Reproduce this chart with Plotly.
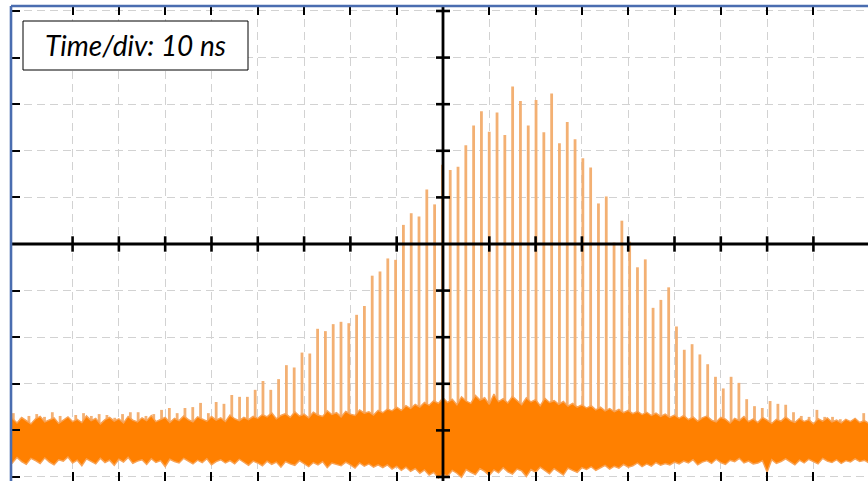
import plotly.graph_objects as go

# ---------------- data ----------------
# vertical scale in divisions, horizontal scale in ns (10 ns / div)
pulse_t0_ns = -92.8          # time of first visible pulse
pulse_period_ns = 1.685      # pulse repetition period
pulse_base_div = -4.2        # pulses start inside the noise band

pulse_peak_div = [
    # left tail
    -3.63, -3.73, -3.69, -3.65, -3.71, -3.61, -3.69, -3.73, -3.67, -3.63,
    -3.69, -3.65, -3.67, -3.73, -3.65, -3.61, -3.61, -3.69, -3.65, -3.56,
    -3.52, -3.63, -3.52, -3.50, -3.41, -3.63, -3.39, -3.43, -3.24, -3.28,
    -3.28,
    # main envelope
    -3.13, -2.94, -3.13, -2.90, -2.60, -2.65, -2.33, -2.35, -1.82, -1.87,
    -1.72, -1.67, -1.70, -1.52, -1.33, -0.68, -0.59, -0.31, -0.34, 0.41,
    0.66, 0.59, 1.17, 0.85, 1.70, 1.59, 1.66, 2.12, 2.54, 2.85,
    2.41, 2.82, 2.34, 3.38, 3.07, 2.54, 3.09, 2.40, 3.23, 2.16,
    2.62, 2.25, 1.84, 1.64, 0.87, 1.02, 0.03, 0.50, 0.05, -0.50,
    -0.33, -1.37, -1.20, -0.93, -1.77, -2.27, -2.15, -2.37, -2.58, -2.85,
    -3.10, -2.85,
    # right tail
    -2.98, -3.33, -3.48, -3.52, -3.37, -3.43, -3.45, -3.61, -3.69, -3.71,
    -3.56, -3.71, -3.71, -3.76, -3.82, -3.84, -3.63,
]

noise_t_ns = list(range(-94, 93, 1))
noise_top_div = [
    # -94 .. -41
    -3.80, -3.74, -3.84, -3.72, -3.79, -3.86, -3.75, -3.70, -3.82, -3.77,
    -3.73, -3.85, -3.78, -3.71, -3.81, -3.76, -3.83, -3.69, -3.79, -3.74,
    -3.86, -3.77, -3.72, -3.80, -3.75, -3.84, -3.70, -3.78, -3.82, -3.73,
    -3.79, -3.68, -3.81, -3.76, -3.72, -3.83, -3.74, -3.79, -3.69, -3.77,
    -3.82, -3.71, -3.76, -3.80, -3.70, -3.78, -3.73, -3.81, -3.67, -3.75,
    -3.79, -3.72, -3.77, -3.70,
    # -40 .. -14
    -3.74, -3.66, -3.71, -3.62, -3.75, -3.68, -3.64, -3.72, -3.60, -3.69,
    -3.65, -3.73, -3.61, -3.67, -3.70, -3.58, -3.66, -3.62, -3.71, -3.59,
    -3.65, -3.68, -3.56, -3.63, -3.60, -3.67, -3.57,
    # -13 .. 0
    -3.62, -3.54, -3.58, -3.50, -3.57, -3.47, -3.53, -3.44, -3.50, -3.40,
    -3.46, -3.36, -3.42, -3.30,
    # 1 .. 30
    -3.40, -3.33, -3.45, -3.28, -3.37, -3.42, -3.25, -3.35, -3.30, -3.44,
    -3.22, -3.38, -3.32, -3.41, -3.27, -3.36, -3.45, -3.30, -3.39, -3.34,
    -3.47, -3.31, -3.40, -3.36, -3.44, -3.38, -3.48, -3.42, -3.50, -3.45,
    # 31 .. 50
    -3.52, -3.47, -3.56, -3.50, -3.58, -3.53, -3.60, -3.55, -3.62, -3.57,
    -3.64, -3.59, -3.66, -3.61, -3.68, -3.63, -3.70, -3.65, -3.72, -3.67,
    # 51 .. 92
    -3.74, -3.68, -3.77, -3.71, -3.80, -3.73, -3.69, -3.78, -3.82, -3.72,
    -3.76, -3.84, -3.74, -3.79, -3.70, -3.81, -3.75, -3.83, -3.72, -3.78,
    -3.85, -3.76, -3.80, -3.71, -3.79, -3.83, -3.74, -3.81, -3.77, -3.86,
    -3.75, -3.80, -3.73, -3.82, -3.78, -3.84, -3.76, -3.81, -3.74, -3.83,
    -3.79, -3.85,
]
noise_bot_div = [
    # -94 .. -41
    -4.62, -4.70, -4.58, -4.67, -4.73, -4.60, -4.65, -4.71, -4.59, -4.68,
    -4.74, -4.63, -4.66, -4.57, -4.70, -4.64, -4.76, -4.61, -4.67, -4.72,
    -4.60, -4.69, -4.64, -4.75, -4.62, -4.68, -4.58, -4.71, -4.66, -4.63,
    -4.73, -4.61, -4.69, -4.65, -4.78, -4.62, -4.67, -4.70, -4.60, -4.66,
    -4.72, -4.64, -4.69, -4.61, -4.74, -4.67, -4.63, -4.70, -4.65, -4.72,
    -4.62, -4.68, -4.75, -4.66,
    # -40 .. -14
    -4.70, -4.76, -4.66, -4.73, -4.68, -4.79, -4.67, -4.72, -4.75, -4.65,
    -4.71, -4.78, -4.69, -4.74, -4.67, -4.80, -4.70, -4.73, -4.76, -4.68,
    -4.74, -4.81, -4.70, -4.77, -4.72, -4.79, -4.74,
    # -13 .. 0
    -4.80, -4.74, -4.83, -4.77, -4.86, -4.79, -4.88, -4.82, -4.92, -4.85,
    -4.96, -4.90, -5.02, -4.94,
    # 1 .. 30
    -4.98, -4.86, -4.92, -5.01, -4.84, -4.90, -4.95, -4.82, -4.88, -4.97,
    -4.85, -4.91, -4.80, -4.89, -4.94, -4.83, -4.87, -4.99, -4.84, -4.90,
    -4.79, -4.86, -4.93, -4.82, -4.88, -4.96, -4.81, -4.86, -4.90, -4.80,
    # 31 .. 50
    -4.84, -4.78, -4.86, -4.80, -4.75, -4.83, -4.77, -4.81, -4.73, -4.79,
    -4.76, -4.70, -4.78, -4.72, -4.77, -4.69, -4.75, -4.71, -4.74, -4.68,
    # 51 .. 92
    -4.72, -4.66, -4.70, -4.63, -4.74, -4.68, -4.65, -4.71, -4.62, -4.69,
    -4.73, -4.64, -4.67, -4.60, -4.70, -4.66, -4.72, -4.70, -4.65, -4.90,
    -4.63, -4.71, -4.67, -4.61, -4.68, -4.74, -4.64, -4.70, -4.62, -4.67,
    -4.72, -4.60, -4.66, -4.69, -4.63, -4.71, -4.65, -4.68, -4.61, -4.67,
    -4.64, -4.70,
]

grid_x_ns = list(range(-80, 81, 10))
grid_y_div = list(range(-5, 6, 1))
label_text = "Time/div: 10 ns"

# ---------------- figure ----------------
W, H = 868, 481
ML, MT = 11, 6
x_range = [-93.30, 91.79]
y_range = [-5.086, 5.107]

ORANGE = "#ff8000"
PULSE = "#f3b073"
BLUE = "#4a6db0"

px, py = [], []
for k, peak in enumerate(pulse_peak_div):
    t = pulse_t0_ns + k * pulse_period_ns
    px += [t, t, None]
    py += [pulse_base_div, peak, None]

fig = go.Figure()
fig.add_trace(go.Scatter(x=px, y=py, mode="lines",
                         line=dict(color=PULSE, width=2.8),
                         hoverinfo="skip", showlegend=False))
fig.add_trace(go.Scatter(x=noise_t_ns + noise_t_ns[::-1],
                         y=noise_top_div + noise_bot_div[::-1],
                         mode="lines", fill="toself", fillcolor=ORANGE,
                         line=dict(color="#f8a356", width=1.4),
                         hoverinfo="skip", showlegend=False))
# center-axis crossing ticks
fig.add_trace(go.Scatter(x=[v for v in grid_x_ns if v != 0], y=[0] * (len(grid_x_ns) - 1),
                         mode="markers", cliponaxis=False,
                         marker=dict(symbol="line-ns", size=11, line=dict(width=2.6, color="black")),
                         hoverinfo="skip", showlegend=False))
fig.add_trace(go.Scatter(x=[0] * (len(grid_y_div) - 1), y=[v for v in grid_y_div if v != 0],
                         mode="markers", cliponaxis=False,
                         marker=dict(symbol="line-ew", size=10, line=dict(width=2.6, color="black")),
                         hoverinfo="skip", showlegend=False))

axis_common = dict(showgrid=True, gridcolor="#d2d2d2", gridwidth=1.2, griddash="8px,5px",
                   zeroline=False, showticklabels=False, showline=False,
                   ticks="inside", ticklen=9, tickwidth=2.4, tickcolor="black")
fig.update_xaxes(range=x_range, tickmode="array", tickvals=grid_x_ns, mirror="ticks", **axis_common)
fig.update_yaxes(range=y_range, tickmode="array", tickvals=grid_y_div, mirror=False, **axis_common)

shapes = [
    # black center axes
    dict(type="line", xref="x", yref="paper", x0=0, x1=0, y0=0, y1=1,
         line=dict(color="black", width=2.8), layer="above"),
    dict(type="line", xref="paper", yref="y", x0=0, x1=1, y0=0, y1=0,
         line=dict(color="black", width=2.8), layer="above"),
    # blue frame (left + top)
    dict(type="line", xref="paper", yref="paper", x0=0, x1=0, y0=-0.02, y1=1,
         line=dict(color=BLUE, width=2.6), layer="above"),
    dict(type="line", xref="paper", yref="paper", x0=0, x1=1.02, y0=1, y1=1,
         line=dict(color=BLUE, width=2.6), layer="above"),
]
pw, ph = W - ML, H - MT
bx0, bx1, by0, by1 = 23, 248, 21, 70
shapes.append(dict(type="rect", xref="paper", yref="paper",
                   x0=(bx0 - ML) / pw, x1=(bx1 - ML) / pw,
                   y0=1 - (by1 - MT) / ph, y1=1 - (by0 - MT) / ph,
                   line=dict(color="black", width=1), fillcolor="white", layer="above"))
fig.update_layout(shapes=shapes)
fig.add_annotation(x=((bx0 + bx1) / 2 - ML) / pw, y=1 - ((by0 + by1) / 2 - MT) / ph,
                   xref="paper", yref="paper", xanchor="center", yanchor="middle",
                   text=label_text, showarrow=False,
                   font=dict(family="Lato", size=28, color="black", style="italic"))

fig.update_layout(width=W, height=H, margin=dict(l=ML, r=0, t=MT, b=0),
                  paper_bgcolor="white", plot_bgcolor="white", showlegend=False)
fig.write_html("out.html", config={"displayModeBar": False},
               post_script="document.body.style.margin='0';document.body.style.overflow='hidden';")
